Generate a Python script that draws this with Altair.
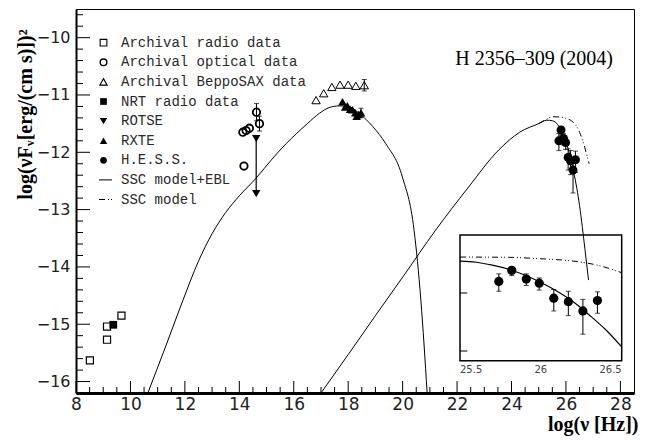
import altair as alt
import pandas as pd

W, H = 558, 384

# ---------------- data ----------------
radio_x = [8.51, 9.14, 9.14, 9.67]
radio_y = [-15.63, -15.04, -15.27, -14.85]
nrt_x = [9.37]
nrt_y = [-15.01]
opt_x = [14.13, 14.25, 14.37, 14.17, 14.63, 14.74]
opt_y = [-11.65, -11.62, -11.58, -12.24, -11.30, -11.50]
opt_err = [0, 0, 0, 0, 0.15, 0.13]
rotse_x = [14.62]
rotse_y = [-11.76]
rotse_lim = [-12.72]
sax_x = [16.82, 17.10, 17.40, 17.70, 18.00, 18.28, 18.59]
sax_y = [-11.09, -10.97, -10.86, -10.82, -10.82, -10.84, -10.83]
sax_err = [0, 0, 0, 0, 0, 0, 0.10]
rxte_x = [17.79, 17.89, 17.97, 18.07, 18.16, 18.26, 18.31, 18.38, 18.47]
rxte_y = [-11.12, -11.21, -11.19, -11.25, -11.26, -11.31, -11.37, -11.34, -11.31]
rxte_err = [0, 0, 0, 0, 0, 0, 0, 0, 0.08]
hess_x = [25.74, 25.82, 25.91, 25.99, 26.08, 26.17, 26.26, 26.35]
hess_y = [-11.80, -11.61, -11.76, -11.83, -12.09, -12.15, -12.31, -12.13]
hess_up = [0.13, 0.06, 0.09, 0.09, 0.15, 0.18, 0.20, 0.15]
hess_lo = [0.17, 0.09, 0.11, 0.12, 0.22, 0.24, 0.40, 0.22]

sync_x = [10.64, 11.3, 11.93, 12.5, 13.0, 13.5, 14.0, 14.62, 15.2, 15.72, 16.5, 16.94, 17.3,
          17.67, 18.0, 18.4, 18.9, 19.38, 19.99, 20.42, 20.67, 20.9]
sync_y = [-16.2, -15.38, -14.58, -13.9, -13.42, -13.05, -12.76, -12.45, -12.12, -11.85, -11.5,
          -11.32, -11.22, -11.19, -11.2, -11.32, -11.55, -11.85, -12.43, -13.36, -14.58, -16.2]
ic_x = [17.0, 18.0, 19.0, 20.0, 21.21, 22.4, 23.53, 24.3, 25.0, 25.3, 25.5, 25.6, 25.7, 25.8,
        25.9, 26.0, 26.1, 26.2, 26.3, 26.4, 26.5, 26.6, 26.7, 26.83]
ic_y = [-16.2, -15.53, -14.85, -14.18, -13.36, -12.62, -11.96, -11.65, -11.50, -11.44, -11.45,
        -11.47, -11.52, -11.59, -11.69, -11.82, -11.97, -12.15, -12.38, -12.63, -12.93, -13.3,
        -13.7, -14.23]
ssc_x = [25.0, 25.3, 25.5, 25.8, 26.0, 26.2, 26.35, 26.5, 26.65, 26.85]
ssc_y = [-11.50, -11.42, -11.38, -11.385, -11.41, -11.45, -11.52, -11.65, -11.85, -12.2]

legend_labels = ["Archival radio data", "Archival optical data", "Archival BeppoSAX data",
                 "NRT radio data", "ROTSE", "RXTE", "H.E.S.S.", "SSC model+EBL", "SSC model"]

y_major = [-16, -15, -14, -13, -12, -11, -10]
y_minor = [round(-16.2 + 0.2 * k, 1) for k in range(34)]
x_major = list(range(8, 29, 2))
x_minor = [8 + 0.5 * k for k in range(41)]

inset_x_lab = [25.5, 26, 26.5]
inset_x_range = [25.5, 26.5]
inset_y_range = [-13.17, -11.0]
inset_y_ticks = [-12, -13]

# ---------------- scales / axes ----------------
XS = alt.Scale(domain=[8, 28.5], nice=False, zero=False)
YS = alt.Scale(domain=[-16.2, -9.5], nice=False, zero=False)
XA = alt.Axis(values=x_major, format="d", ticks=False, grid=False, domainColor="black",
              domainWidth=3, labelFont="DejaVu Sans", labelFontSize=17, labelColor="#222",
              labelPadding=3, labelFlush=False, labelOverlap=False,
              title="log(ν [Hz])", titleFont="Liberation Serif", titleFontSize=20,
              titleFontWeight="bold", titleColor="black", titleX=562, titleY=37,
              titleAlign="right", titleBaseline="alphabetic")
YA = alt.Axis(values=y_major, format="d", ticks=False, grid=False, domainColor="black",
              domainWidth=2, labelFont="DejaVu Sans", labelFontSize=16, labelColor="#222",
              labelPadding=6, labelFlush=False, labelOverlap=False,
              title="log(νFᵥ[erg/(cm s)])²", titleFont="Liberation Serif", titleFontSize=20,
              titleFontWeight="bold", titleColor="black", titleAngle=270, titleX=-41,
              titleY=105, titleAlign="center", titleBaseline="bottom")


def X(f):
    return alt.X(f"{f}:Q", scale=XS, axis=XA)


def Y(f):
    return alt.Y(f"{f}:Q", scale=YS, axis=YA)


IXS = alt.Scale(domain=[25.5 - 384 / 161.7, 25.5 + (558 - 384) / 161.7], nice=False, zero=False)
IYS = alt.Scale(domain=[-11 - 158 / 58.0, -11 + 226 / 58.0], nice=False, zero=False)


def IX(f):
    return alt.X(f"{f}:Q", scale=IXS, axis=None)


def IY(f):
    return alt.Y(f"{f}:Q", scale=IYS, axis=None)


def df(**kw):
    return pd.DataFrame(kw)


def errbars(d, xf, yf, cap=5):
    d = d[(d["lo"] != d["hi"])]
    r = alt.Chart(d).mark_rule(color="black", strokeWidth=1).encode(x=xf("x"), y=yf("lo"), y2="hi")
    c1 = alt.Chart(d).mark_tick(orient="horizontal", size=cap, thickness=1, color="black").encode(
        x=xf("x"), y=yf("lo"))
    c2 = alt.Chart(d).mark_tick(orient="horizontal", size=cap, thickness=1, color="black").encode(
        x=xf("x"), y=yf("hi"))
    return [r, c1, c2]


one = pd.DataFrame({"a": [0]})

layers = []

# ticks (inward)
layers.append(alt.Chart(df(v=y_major)).mark_rule(color="black").encode(
    y=Y("v"), x=alt.value(0), x2=alt.value(14)))
layers.append(alt.Chart(df(v=[v for v in y_minor if v not in y_major])).mark_rule(color="black").encode(
    y=Y("v"), x=alt.value(0), x2=alt.value(7)))
layers.append(alt.Chart(df(v=x_major)).mark_rule(color="black").encode(
    x=X("v"), y=alt.value(H), y2=alt.value(H - 12)))
layers.append(alt.Chart(df(v=[v for v in x_minor if v not in x_major])).mark_rule(color="black").encode(
    x=X("v"), y=alt.value(H), y2=alt.value(H - 6)))

# curves
layers.append(alt.Chart(df(x=sync_x, y=sync_y)).mark_line(
    color="black", strokeWidth=1, interpolate="monotone", clip=True).encode(x=X("x"), y=Y("y")))
layers.append(alt.Chart(df(x=ic_x, y=ic_y)).mark_line(
    color="black", strokeWidth=1, interpolate="monotone", clip=True).encode(x=X("x"), y=Y("y")))
layers.append(alt.Chart(df(x=ssc_x, y=ssc_y)).mark_line(
    color="black", strokeWidth=1, interpolate="monotone", strokeDash=[6, 3, 1, 2, 1, 3]).encode(
    x=X("x"), y=Y("y")))

# error bars
opt_df = df(x=opt_x, y=opt_y, lo=[a - b for a, b in zip(opt_y, opt_err)],
            hi=[a + b for a, b in zip(opt_y, opt_err)])
sax_df = df(x=sax_x, y=sax_y, lo=[a - b for a, b in zip(sax_y, sax_err)],
            hi=[a + b for a, b in zip(sax_y, sax_err)])
rxte_df = df(x=rxte_x, y=rxte_y, lo=[a - b for a, b in zip(rxte_y, rxte_err)],
             hi=[a + b for a, b in zip(rxte_y, rxte_err)])
hess_df = df(x=hess_x, y=hess_y, lo=[a - b for a, b in zip(hess_y, hess_lo)],
             hi=[a + b for a, b in zip(hess_y, hess_up)])
for d in (opt_df, sax_df, rxte_df, hess_df):
    layers += errbars(d, X, Y, cap=5)

# ROTSE upper limit arrow
layers.append(alt.Chart(df(x=rotse_x, y=rotse_y, lo=rotse_lim)).mark_rule(
    color="black", strokeWidth=1.2).encode(x=X("x"), y=Y("y"), y2="lo"))
layers.append(alt.Chart(df(x=rotse_x, y=rotse_lim)).mark_point(
    shape="triangle-down", filled=True, color="black", size=70, opacity=1).encode(x=X("x"), y=Y("y")))

# points
layers.append(alt.Chart(df(x=radio_x, y=radio_y)).mark_point(
    shape="square", filled=False, color="black", size=50, strokeWidth=1.2, opacity=1).encode(
    x=X("x"), y=Y("y")))
layers.append(alt.Chart(df(x=nrt_x, y=nrt_y)).mark_point(
    shape="square", filled=True, color="black", size=60, opacity=1).encode(x=X("x"), y=Y("y")))
layers.append(alt.Chart(opt_df).mark_point(
    shape="circle", filled=False, color="black", size=55, strokeWidth=1.8, opacity=1).encode(
    x=X("x"), y=Y("y")))
layers.append(alt.Chart(df(x=rotse_x, y=rotse_y)).mark_point(
    shape="triangle-down", filled=True, color="black", size=70, opacity=1).encode(x=X("x"), y=Y("y")))
layers.append(alt.Chart(sax_df).mark_point(
    shape="triangle-up", filled=False, color="black", size=70, strokeWidth=1, opacity=1).encode(
    x=X("x"), y=Y("y")))
layers.append(alt.Chart(rxte_df).mark_point(
    shape="triangle-up", filled=True, color="black", size=75, opacity=1).encode(x=X("x"), y=Y("y")))
layers.append(alt.Chart(hess_df).mark_point(
    shape="circle", filled=True, color="black", size=80, opacity=1).encode(x=X("x"), y=Y("y")))

# title
layers.append(alt.Chart(one).mark_text(
    text="H 2356–309 (2004)", font="Liberation Serif", fontSize=20, align="right",
    baseline="alphabetic", color="black").encode(x=alt.value(537), y=alt.value(56)))

# legend
sym = [("square", False), ("circle", False), ("triangle-up", False), ("square", True),
       ("triangle-down", True), ("triangle-up", True), ("circle", True), None, None]
for i, lab in enumerate(legend_labels):
    yy = 33.7 + 19.6 * i
    s = sym[i]
    if s is not None:
        shape, filled = s
        kw = dict(shape=shape, filled=filled, color="black", opacity=1,
                  size=55 if "tri" in shape else 45)
        if not filled:
            kw["strokeWidth"] = 1.4 if shape == "circle" else 1.1
        layers.append(alt.Chart(one).mark_point(**kw).encode(x=alt.value(27.5), y=alt.value(yy)))
    else:
        kw = dict(color="black", strokeWidth=1)
        if i == 8:
            kw["strokeDash"] = [6, 3, 1, 2, 1, 3]
        layers.append(alt.Chart(one).mark_rule(**kw).encode(
            x=alt.value(23), x2=alt.value(36), y=alt.value(yy)))
    layers.append(alt.Chart(one).mark_text(
        text=lab, font="Liberation Mono", fontSize=14, align="left", baseline="middle",
        color="#2a2a2a").encode(x=alt.value(45), y=alt.value(yy)))

main = alt.layer(*layers)

# ---------------- inset ----------------
il = []
il.append(alt.Chart(df(x=[inset_x_range[0]], x2=[inset_x_range[1]], y=[inset_y_range[0]],
                       y2=[inset_y_range[1]])).mark_rect(
    filled=False, stroke="black", strokeWidth=1.5).encode(x=IX("x"), x2="x2", y=IY("y"), y2="y2"))
il.append(alt.Chart(df(y=inset_y_ticks, x=[25.5] * 2, x2=[25.545] * 2)).mark_rule(
    color="black").encode(x=IX("x"), x2="x2", y=IY("y")))
for v, al in zip(inset_x_lab, ["left", "center", "right"]):
    il.append(alt.Chart(df(x=[v], y=[inset_y_range[0]])).mark_text(
        text=f"{v:g}", font="DejaVu Sans", fontSize=10, align=al, baseline="middle",
        color="#444", dy=9).encode(x=IX("x"), y=IY("y")))
ins_ic = [(a, b) for a, b in zip(ic_x, ic_y) if 25.5 <= a <= 26.5]
ins_ssc = [(a, b) for a, b in zip(ssc_x, ssc_y) if 25.5 <= a <= 26.5]
il.append(alt.Chart(df(x=[p[0] for p in ins_ic], y=[p[1] for p in ins_ic])).mark_line(
    color="black", strokeWidth=1.2, interpolate="monotone").encode(x=IX("x"), y=IY("y")))
il.append(alt.Chart(df(x=[p[0] for p in ins_ssc], y=[p[1] for p in ins_ssc])).mark_line(
    color="black", strokeWidth=1, interpolate="monotone", strokeDash=[6, 3, 1, 2, 1, 3]).encode(
    x=IX("x"), y=IY("y")))
il += errbars(hess_df, IX, IY, cap=5)
il.append(alt.Chart(hess_df).mark_point(
    shape="circle", filled=True, color="black", size=85, opacity=1).encode(x=IX("x"), y=IY("y")))
inset = alt.layer(*il)

chart = alt.layer(main, inset).resolve_scale(x="independent", y="independent").properties(
    width=W, height=H, autosize=alt.AutoSizeParams(type="none"),
    padding={"left": 68, "top": 1, "right": 5, "bottom": 48},
).configure_view(stroke="black", strokeWidth=1)

chart.save("out.html", embed_options={"renderer": "svg", "actions": False})
